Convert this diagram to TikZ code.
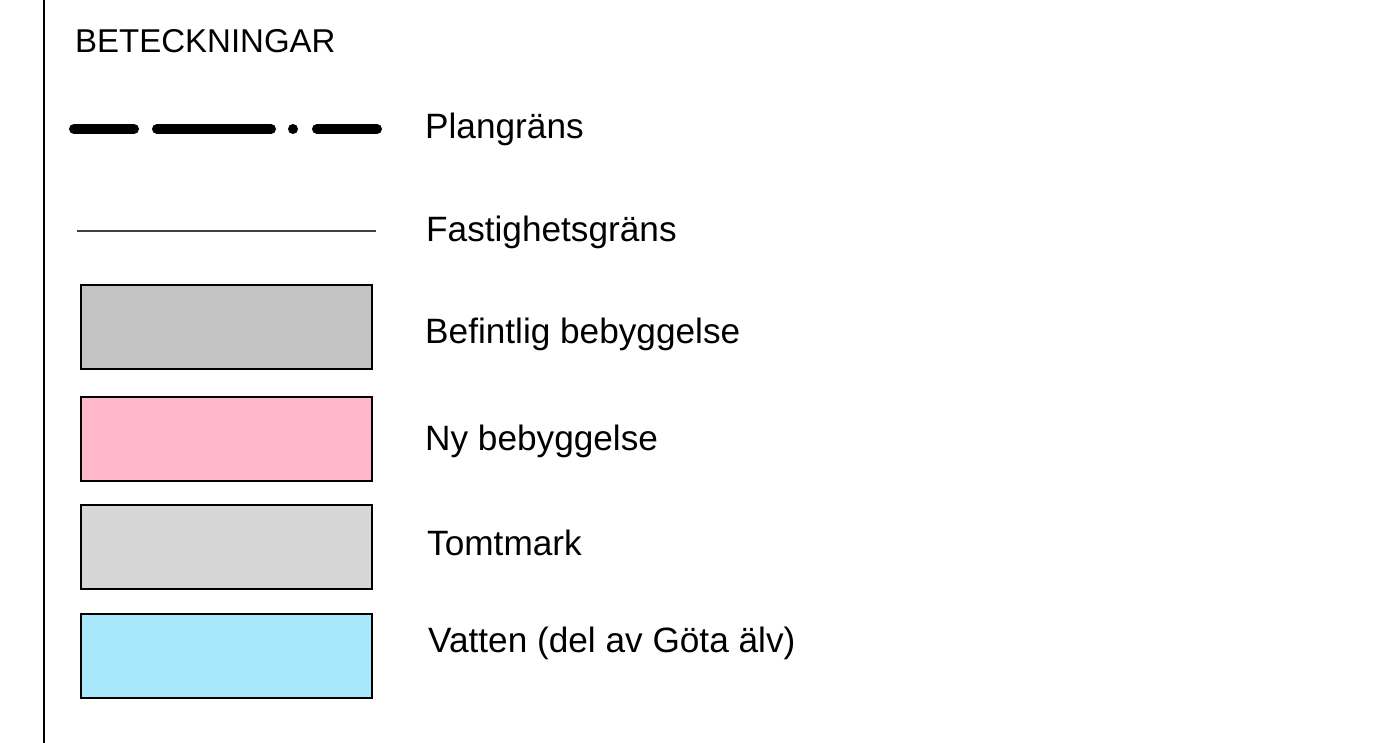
\documentclass[tikz,border=0pt]{standalone}
\usepackage{fontspec}
\setmainfont{Liberation Sans}
\usepackage{tikz}
\usetikzlibrary{positioning}
\definecolor{befintlig}{HTML}{C3C3C3}
\definecolor{nybebygg}{HTML}{FFB7C9}
\definecolor{tomtmark}{HTML}{D6D6D6}
\definecolor{vatten}{HTML}{A8E8FD}
\tikzset{
	ruta/.style={draw=black, line width=2.2pt, minimum width=290.5pt, minimum height=84pt, inner sep=0pt, anchor=north west},
	etikett/.style={anchor=base west, inner sep=0pt, font=\fontsize{35.2pt}{40pt}\selectfont},
}

\begin{document}
\begin{tikzpicture}[x=1pt, y=-1pt]
			%%%%% START %%%%%
			
			\useasboundingbox (0, 0) rectangle (1400, 743);
			\fill[white] (0, 0) rectangle (1400, 743);
			
			\draw[line width=2.5pt] (44, 0) -- (44, 743);
			
			\node[anchor=base west, inner sep=0pt, font=\fontsize{33pt}{40pt}\selectfont] (rubrik) at (75, 53) {BETECKNINGAR};
			
			\coordinate (plan-a) at (74, 129);
			\coordinate (plan-b) at (377, 129);
			\draw[line width=10pt, line cap=round, dash pattern=on 60pt off 23pt on 114pt off 22pt on 0pt off 24pt on 60pt] (plan-a) -- (plan-b);
			\node[etikett] (plan) at (425, 139) {Plangräns};
			
			\coordinate (fast-a) at (77, 231);
			\coordinate (fast-b) at (376, 231);
			\draw[line width=2pt, color=black!75] (fast-a) -- (fast-b);
			\node[etikett] (fast) at (426, 242) {Fastighetsgräns};
			
			\node[ruta, fill=befintlig] (r1) at (80, 284) {};
			\node[etikett] (befintlig) at (425, 343) {Befintlig bebyggelse};
			
			\node[ruta, fill=nybebygg] (r2) at (80, 395.5) {};
			\node[etikett] (ny) at (425, 450) {Ny bebyggelse};
			
			\node[ruta, fill=tomtmark] (r3) at (80, 504) {};
			\node[etikett] (tomt) at (427, 555) {Tomtmark};
			
			\node[ruta, fill=vatten] (r4) at (80, 612.5) {};
			\node[etikett] (vatten) at (428, 652) {Vatten (del av Göta älv)};
			
			%%%%% END %%%%%
		\end{tikzpicture}
\end{document}
